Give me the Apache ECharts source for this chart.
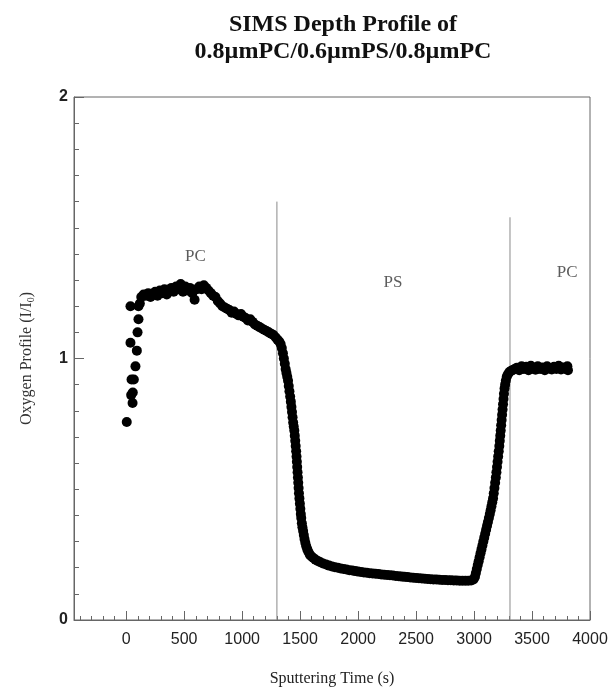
<!DOCTYPE html>
<html>
<head>
<meta charset="utf-8">
<title>SIMS Depth Profile</title>
<script src="https://cdn.jsdelivr.net/npm/echarts@6/dist/echarts.min.js"></script>
<style>
    html, body { margin: 0; padding: 0; background: #fff; }
    #chartMain { width: 614px; height: 687px; }
</style>
</head>
<body>
<div id="chartMain"></div>
<script>
    // sputtering time (s) and oxygen ratio I/I0
    const sputterTime = [
        5, 37, 37, 43, 46, 55, 57, 66, 80, 92, 98, 106, 106, 118,
        130, 150, 170, 190, 210, 230, 250, 270, 290, 310, 330, 350, 370, 390, 410, 430, 450, 470, 490, 510,
        530, 550, 570, 590, 610, 630, 650, 670, 690, 710, 730, 750, 770, 790, 810, 830, 850, 870, 890, 910,
        930, 950, 970, 990, 1010, 1030, 1050, 1070, 1090, 1110, 1130, 1150, 1170, 1190, 1210, 1230, 1250, 1270, 1290,
        1305, 1320, 1332, 1342, 1352, 1360, 1368, 1375, 1382, 1389, 1396, 1402, 1408, 1414, 1420, 1425, 1430, 1435,
        1440, 1445, 1450, 1454, 1458, 1462, 1466, 1469, 1472, 1475, 1478, 1481, 1484, 1487, 1490, 1494, 1498, 1502,
        1506, 1510, 1515, 1520, 1526, 1532, 1538, 1545, 1553, 1562, 1572, 1584, 1598, 1614, 1632, 1652, 1674, 1698,
        1724, 1750,
        1775, 1800, 1825, 1850, 1875, 1900, 1925, 1950, 1975, 2000, 2025, 2050, 2075, 2100, 2125, 2150, 2175, 2200,
        2225, 2250, 2275, 2300, 2325, 2350, 2375, 2400, 2425, 2450, 2475, 2500, 2525, 2550, 2575, 2600, 2625, 2650,
        2675, 2700, 2725, 2750, 2775, 2800, 2825, 2850, 2875, 2900, 2925, 2950, 2975, 2995,
        3008, 3016, 3024, 3032, 3040, 3048, 3056, 3064, 3072, 3080, 3088, 3096, 3104, 3112, 3120, 3128, 3136, 3143,
        3150, 3157, 3164, 3170, 3176, 3182, 3188, 3193, 3198, 3203, 3208, 3213, 3218, 3222, 3226, 3230, 3234, 3238,
        3242, 3246, 3250, 3254, 3258, 3263, 3268, 3274, 3282, 3292, 3305, 3320, 3335,
        3350, 3370, 3390, 3410, 3430, 3450, 3470, 3490, 3510, 3530, 3550, 3570, 3590, 3610, 3630, 3650, 3670, 3690,
        3710, 3730, 3750, 3770, 3790, 3805, 3810
    ];
    const oxygenRatio = [
        0.757, 1.20, 1.06, 0.86, 0.92, 0.83, 0.87, 0.92, 0.97, 1.03, 1.10, 1.15, 1.20, 1.21,
        1.235, 1.245, 1.24, 1.25, 1.235, 1.245, 1.255, 1.24, 1.26, 1.25, 1.265, 1.245, 1.26, 1.27, 1.255, 1.275, 1.265, 1.285, 1.255, 1.275,
        1.26, 1.27, 1.25, 1.225, 1.265, 1.275, 1.265, 1.28, 1.27, 1.26, 1.25, 1.24, 1.235, 1.22, 1.21, 1.2, 1.195, 1.19, 1.185, 1.175,
        1.18, 1.17, 1.165, 1.17, 1.16, 1.155, 1.145, 1.15, 1.14, 1.13, 1.125, 1.12, 1.115, 1.11, 1.105, 1.1, 1.095, 1.09, 1.08,
        1.072, 1.065, 1.055, 1.04, 1.02, 1.0, 0.98, 0.96, 0.945, 0.93, 0.915, 0.895, 0.875, 0.855, 0.835, 0.815, 0.795, 0.775,
        0.755, 0.74, 0.725, 0.705, 0.685, 0.665, 0.645, 0.625, 0.605, 0.585, 0.565, 0.545, 0.525, 0.505, 0.485, 0.465, 0.445, 0.425,
        0.405, 0.39, 0.37, 0.355, 0.34, 0.325, 0.31, 0.295, 0.282, 0.27, 0.26, 0.25, 0.243, 0.237, 0.231, 0.226, 0.221, 0.216,
        0.212, 0.208,
        0.205, 0.202, 0.2, 0.197, 0.195, 0.193, 0.19, 0.189, 0.187, 0.185, 0.184, 0.182, 0.181, 0.179, 0.178, 0.177, 0.176, 0.174,
        0.173, 0.172, 0.171, 0.17, 0.168, 0.167, 0.166, 0.165, 0.164, 0.163, 0.162, 0.161, 0.16, 0.159, 0.158, 0.157, 0.156, 0.155,
        0.155, 0.154, 0.153, 0.153, 0.152, 0.152, 0.151, 0.151, 0.15, 0.15, 0.15, 0.15, 0.151, 0.155,
        0.165, 0.18, 0.195, 0.21, 0.225, 0.24, 0.255, 0.27, 0.285, 0.3, 0.315, 0.33, 0.345, 0.36, 0.375, 0.39, 0.405, 0.42,
        0.435, 0.45, 0.465, 0.485, 0.505, 0.525, 0.545, 0.565, 0.585, 0.605, 0.625, 0.645, 0.665, 0.685, 0.705, 0.725, 0.745, 0.765,
        0.785, 0.805, 0.825, 0.845, 0.865, 0.885, 0.9, 0.915, 0.93, 0.94, 0.948, 0.953, 0.956,
        0.96, 0.965, 0.955, 0.97, 0.96, 0.968, 0.955, 0.972, 0.962, 0.957, 0.97, 0.96, 0.966, 0.955, 0.97, 0.962, 0.958, 0.968,
        0.96, 0.972, 0.958, 0.966, 0.96, 0.97, 0.955
    ];

    // layer boundaries (thin vertical lines)
    const boundaryTime = [1300, 3310];
    const boundaryTop = [1.6, 1.54];

    // layer names
    const layerNames = ['PC', 'PS', 'PC'];
    const layerLabelTime = [598, 2300, 3803];
    const layerLabelLevel = [1.39, 1.29, 1.33];

    const serifFont = '"Liberation Serif", "Times New Roman", serif';
    const sansFont = '"Liberation Sans", Arial, sans-serif';
    const axisColor = '#666';

    let profileData = sputterTime.map(function (t, i) {
        return [t, oxygenRatio[i]];
    });
    let labelData = layerNames.map(function (name, i) {
        return { value: [layerLabelTime[i], layerLabelLevel[i]], name: name };
    });
    let boundarySeries = boundaryTime.map(function (t, i) {
        return {
            type: 'line',
            data: [[t, 0], [t, boundaryTop[i]]],
            symbol: 'none',
            silent: true,
            lineStyle: { color: '#8a8a8a', width: 1 },
            z: 1
        };
    });

    let myChart = echarts.init(document.getElementById('chartMain'));
    myChart.setOption({
        animation: false,
        title: {
            text: 'SIMS Depth Profile of\n0.8µmPC/0.6µmPS/0.8µmPC',
            left: 338,
            top: 6,
            textAlign: 'center',
            textStyle: {
                fontFamily: serifFont,
                fontWeight: 'bold',
                fontSize: 24,
                lineHeight: 27,
                color: '#111'
            }
        },
        grid: {
            left: 74,
            right: 24,
            top: 97,
            bottom: 67,
            outerBoundsMode: 'none',
            containLabel: false,
            show: true,
            borderColor: axisColor,
            borderWidth: 1
        },
        xAxis: {
            type: 'value',
            min: -450,
            max: 4000,
            splitNumber: 9,
            name: 'Sputtering Time (s)',
            nameLocation: 'middle',
            nameGap: 51,
            nameTextStyle: { fontFamily: serifFont, fontSize: 16, color: '#222' },
            axisLine: { onZero: false, lineStyle: { color: axisColor } },
            axisTick: { inside: true, length: 9, lineStyle: { color: axisColor } },
            minorTick: { show: true, splitNumber: 5, length: 4, lineStyle: { color: axisColor } },
            axisLabel: {
                showMinLabel: false,
                margin: 12,
                fontFamily: sansFont,
                fontSize: 16,
                color: '#222',
                formatter: function (v) { return String(v); }
            },
            splitLine: { show: false }
        },
        yAxis: {
            type: 'value',
            min: 0,
            max: 2,
            interval: 1,
            name: 'Oxygen Profile (I/I{sub|0})',
            nameLocation: 'middle',
            nameGap: 38,
            nameTextStyle: {
                fontFamily: serifFont,
                fontSize: 16,
                color: '#333',
                rich: {
                    sub: { fontFamily: serifFont, fontSize: 10, color: '#333', padding: [8, 0, 0, 0] }
                }
            },
            axisLine: { onZero: false, lineStyle: { color: axisColor } },
            axisTick: { inside: true, length: 10, lineStyle: { color: axisColor } },
            minorTick: { show: true, splitNumber: 10, length: 5, lineStyle: { color: axisColor } },
            axisLabel: {
                margin: 6,
                fontFamily: sansFont,
                fontSize: 16,
                fontWeight: 'bold',
                color: '#222'
            },
            splitLine: { show: false }
        },
        series: [
            {
                name: 'Oxygen Profile',
                type: 'scatter',
                data: profileData,
                symbolSize: 10,
                itemStyle: { color: '#000', opacity: 1 },
                z: 3
            },
            {
                name: 'Layers',
                type: 'scatter',
                data: labelData,
                symbolSize: 0,
                silent: true,
                label: {
                    show: true,
                    position: 'inside',
                    formatter: '{b}',
                    fontFamily: serifFont,
                    fontSize: 17,
                    color: '#333'
                },
                z: 2
            }
        ].concat(boundarySeries)
    });
</script>
</body>
</html>
